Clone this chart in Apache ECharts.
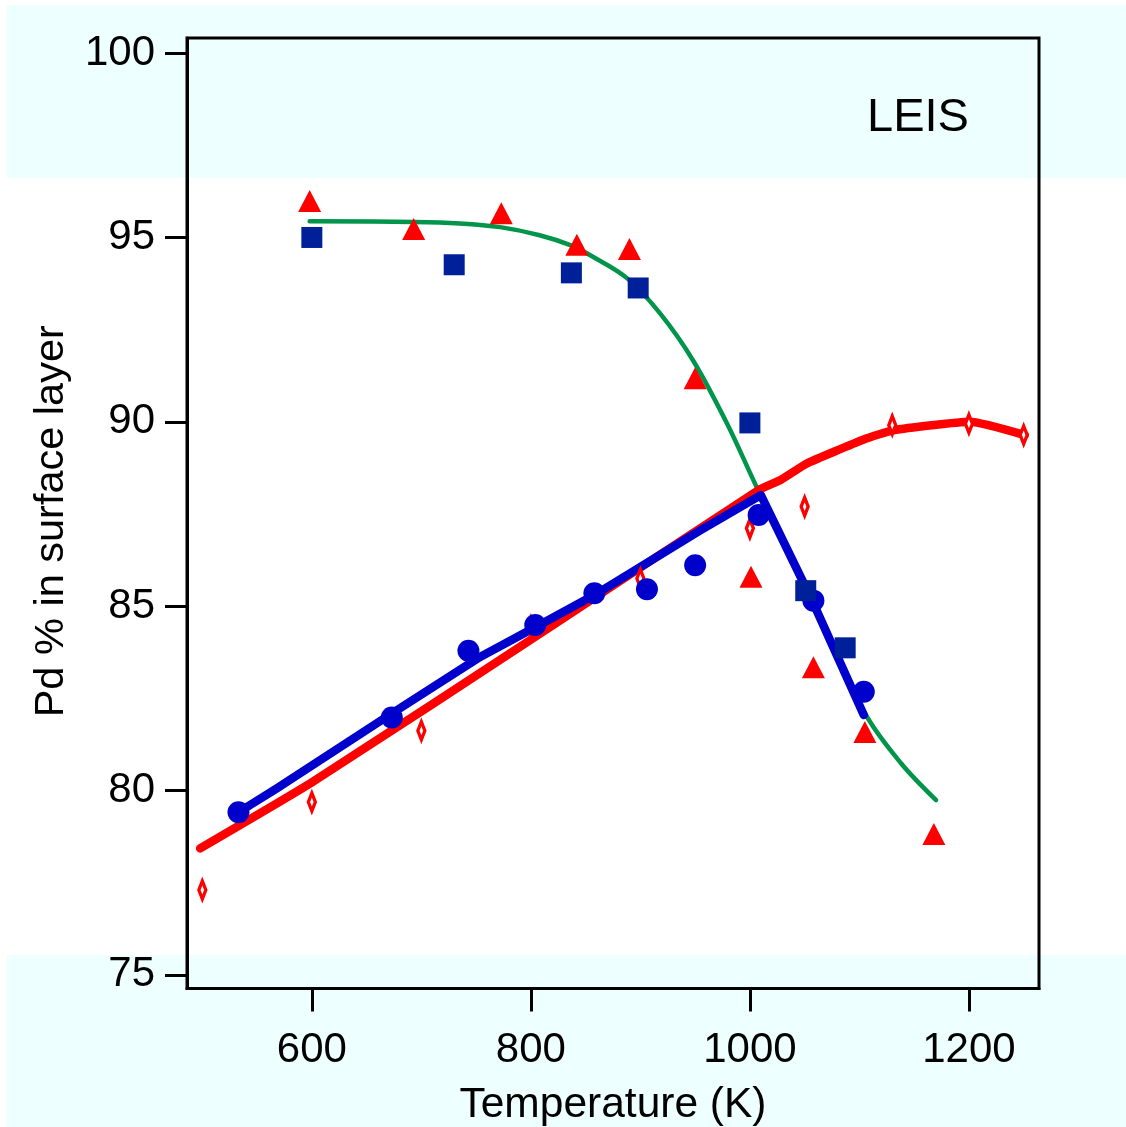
<!DOCTYPE html>
<html>
<head>
<meta charset="utf-8">
<script src="https://cdn.jsdelivr.net/npm/echarts@6/dist/echarts.min.js"></script>
<style>
  html, body { margin: 0; padding: 0; background: #ffffff; }
  #chart { width: 1126px; height: 1127px; }
</style>
</head>
<body>
<div id="chart"></div>
<script>
// Pd surface concentration (LEIS) versus annealing temperature

// Axis ticks
const xTicks = [600, 800, 1000, 1200];
const yTicks = [75, 80, 85, 90, 95, 100];

// Measured points: squares
const squareT = [600, 730, 837, 898, 1000, 1051, 1087];
const squareV = [95.0, 94.26, 94.04, 93.63, 89.97, 85.42, 83.87];

// Measured points: triangles
const triangleT = [598, 693, 773, 842, 890, 950, 1001, 1058, 1105, 1168];
const triangleV = [95.99, 95.23, 95.66, 94.80, 94.69, 91.18, 85.80, 83.34, 81.59, 78.82];

// Measured points: filled circles
const circleT = [533, 673, 743, 804, 858, 906, 950, 1008, 1058, 1104];
const circleV = [79.41, 81.98, 83.79, 84.49, 85.35, 85.46, 86.11, 87.47, 85.15, 82.68];

// Measured points: open diamonds
const diamondT = [500, 600, 700, 800, 900, 1000, 1050, 1130, 1200, 1250];
const diamondV = [77.30, 79.69, 81.62, 84.45, 85.75, 87.11, 87.70, 89.91, 89.95, 89.64];

// Guide curves
const greenT = [598, 693, 735, 772, 808, 836, 857, 888, 918, 948, 979, 1006, 1057, 1106, 1138, 1170];
const greenV = [95.44, 95.42, 95.38, 95.28, 95.06, 94.79, 94.47, 93.89, 92.94, 91.67, 89.96, 88.24, 85.10, 82.05, 80.74, 79.74];

const redT = [498, 600, 818, 1008, 1028, 1052, 1104, 1131, 1201, 1251];
const redV = [78.43, 80.22, 84.44, 88.15, 88.42, 88.87, 89.52, 89.77, 90.00, 89.64];

const blueT = [533, 568, 673, 754, 804, 858, 955, 1010, 1058, 1104];
const blueV = [79.41, 80.06, 82.09, 83.63, 84.43, 85.30, 87.06, 88.01, 85.08, 82.05];

const pairs = (xs, ys) => xs.map((x, i) => [x, ys[i]]);

const FONT = '"Liberation Sans", Arial, Helvetica, sans-serif';
const RED = '#ff0000';
const BLUE = '#0000cc';
const NAVY = '#00209a';
const GREEN = '#00954a';

const chart = echarts.init(document.getElementById('chart'), null, { renderer: 'canvas' });

chart.setOption({
  animation: false,
  backgroundColor: '#ffffff',
  graphic: {
    elements: [
      { type: 'rect', z: -100, silent: true, shape: { x: 7, y: 5, width: 1119, height: 173 }, style: { fill: '#eeffff' } },
      { type: 'rect', z: -100, silent: true, shape: { x: 7, y: 955, width: 1119, height: 172 }, style: { fill: '#eeffff' } },
      { type: 'text', z: 10, silent: true, x: 867, y: 118,
        style: { text: 'LEIS', font: '47px ' + FONT, fill: '#000', verticalAlign: 'middle', align: 'left' } }
    ]
  },
  grid: {
    left: 187, right: 87, top: 38, bottom: 138.5,
    outerBoundsMode: 'none',
    containLabel: false,
    show: true, borderColor: '#000', borderWidth: 3, backgroundColor: 'transparent'
  },
  xAxis: {
    type: 'value',
    min: 486, max: 1264,
    name: 'Temperature (K)',
    nameLocation: 'middle',
    nameGap: 95,
    nameTextStyle: { fontFamily: FONT, fontSize: 42.5, color: '#000' },
    axisLine: { show: true, lineStyle: { color: '#000', width: 3 } },
    axisTick: { show: true, inside: false, length: 23, customValues: xTicks, lineStyle: { color: '#000', width: 3 } },
    axisLabel: { show: true, customValues: xTicks, margin: 41, fontFamily: FONT, fontSize: 42, color: '#000',
                 formatter: (v) => String(v) },
    splitLine: { show: false }
  },
  yAxis: {
    type: 'value',
    min: 74.63, max: 100.41,
    name: 'Pd % in surface layer',
    nameLocation: 'middle',
    nameGap: 114,
    nameRotate: 90,
    nameTextStyle: { fontFamily: FONT, fontSize: 41.5, color: '#000', padding: [0, 16, 0, 0] },
    axisLine: { show: true, lineStyle: { color: '#000', width: 3 } },
    axisTick: { show: true, inside: false, length: 22, customValues: yTicks, lineStyle: { color: '#000', width: 3 } },
    axisLabel: { show: true, customValues: yTicks, margin: 32, fontFamily: FONT, fontSize: 42, color: '#000',
                 formatter: (v) => String(v) },
    splitLine: { show: false }
  },
  series: [
    {
      name: 'fit-green', type: 'line', z: 2, showSymbol: false, smooth: 0.35,
      data: pairs(greenT, greenV),
      lineStyle: { color: GREEN, width: 4.5, cap: 'round', join: 'round' }
    },
    {
      name: 'fit-red', type: 'line', z: 3, showSymbol: false, smooth: 0.15,
      data: pairs(redT, redV),
      lineStyle: { color: RED, width: 8.5, cap: 'round', join: 'round' }
    },
    {
      name: 'fit-blue', type: 'line', z: 4, showSymbol: false,
      data: pairs(blueT, blueV),
      lineStyle: { color: BLUE, width: 8.5, cap: 'round', join: 'round' }
    },
    {
      name: 'diamonds', type: 'scatter', z: 5, symbol: 'diamond', symbolSize: [7, 18],
      data: pairs(diamondT, diamondV),
      itemStyle: { color: '#ffffff', borderColor: RED, borderWidth: 4, opacity: 1 }
    },
    {
      name: 'circles', type: 'scatter', z: 6, symbol: 'circle', symbolSize: 22,
      data: pairs(circleT, circleV),
      itemStyle: { color: BLUE, opacity: 1 }
    },
    {
      name: 'squares', type: 'scatter', z: 7, symbol: 'rect', symbolSize: 21,
      data: pairs(squareT, squareV),
      itemStyle: { color: NAVY, opacity: 1 }
    },
    {
      name: 'triangles', type: 'scatter', z: 8, symbol: 'triangle', symbolSize: [23, 22],
      data: pairs(triangleT, triangleV),
      itemStyle: { color: RED, opacity: 1 }
    }
  ]
});
</script>
</body>
</html>
